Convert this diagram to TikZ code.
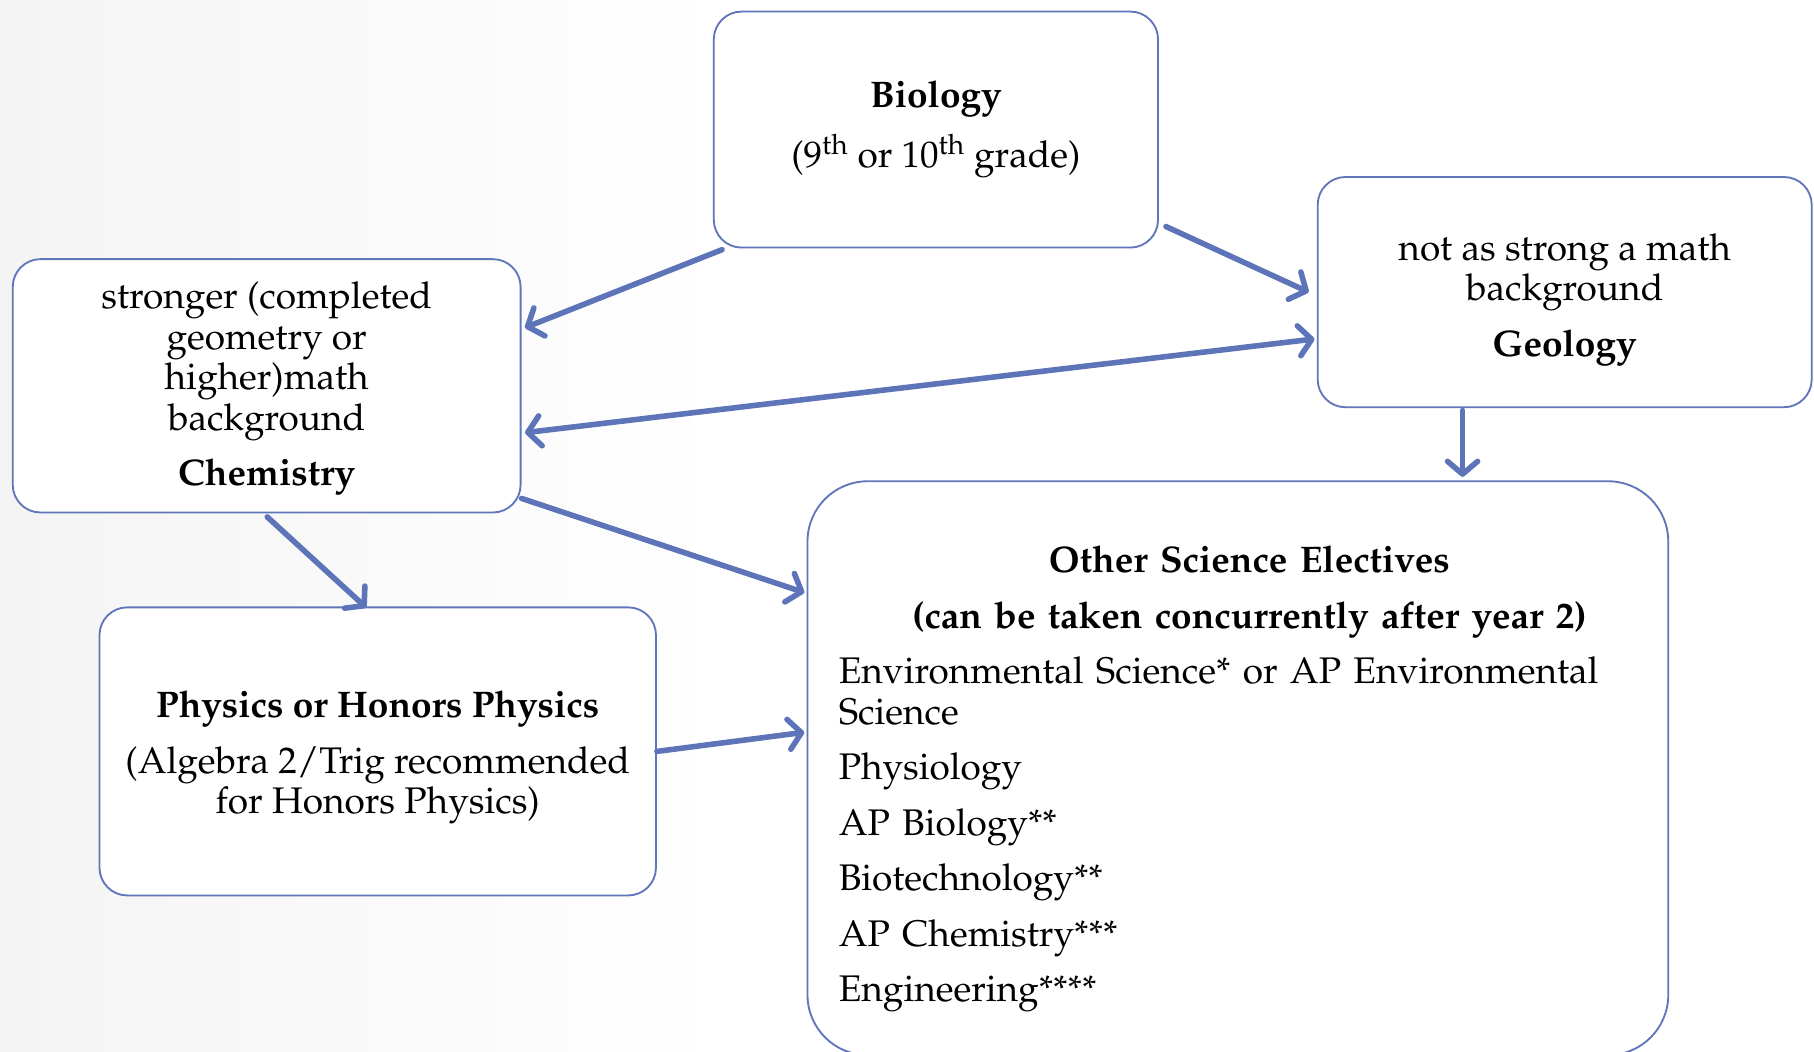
\documentclass[tikz,border=0pt]{standalone}
\usepackage[T1]{fontenc}
\usepackage{mathpazo}
\usetikzlibrary{arrows.meta}
\definecolor{arrowblue}{RGB}{93,116,185}
\definecolor{boxblue}{RGB}{96,118,186}
\pgfdeclarehorizontalshading{bgshade}{100bp}{color(0bp)=(black!12); color(22bp)=(black!5); color(45bp)=(white); color(80bp)=(white); color(100bp)=(black!8)}
\newcommand{\topstrut}[1]{\rule{0pt}{#1}}
\tikzset{
  box/.style={draw=boxblue, line width=1.6pt, fill=white, rounded corners=24pt,
    align=center, inner sep=0pt, font=\fontsize{32}{35}\selectfont},
  flow/.style={draw=arrowblue, line width=4.8pt, line cap=round,
    -{Straight Barb[length=11pt,width=26pt,round]}},
  flowboth/.style={draw=arrowblue, line width=4.8pt, line cap=round,
    {Straight Barb[length=11pt,width=26pt,round]}-{Straight Barb[length=11pt,width=26pt,round]}}
}
\begin{document}
\begin{tikzpicture}[x=1pt,y=-1pt]
\useasboundingbox (0,0) rectangle (1568,909);
\shade[shading=bgshade] (0,0) rectangle (1568,909);

\node[box, minimum width=384pt, minimum height=204pt] (bio) at (809,112)
  {\topstrut{22pt}\textbf{Biology}\\[13pt](9\textsuperscript{th} or 10\textsuperscript{th} grade)};
\node[box, minimum width=427pt, minimum height=199pt] (geo) at (1352.5,252.5)
  {\topstrut{36pt}not as strong a math\\background\\[13pt]\textbf{Geology}};
\node[box, minimum width=439pt, minimum height=219pt] (chem) at (230.5,333.5)
  {\topstrut{28pt}stronger (completed\\geometry or\\higher)math\\background\\[13pt]\textbf{Chemistry}};
\node[box, minimum width=481pt, minimum height=249pt] (phys) at (326.5,649.5)
  {\topstrut{34pt}\textbf{Physics or Honors Physics}\\[13pt](Algebra 2/Trig recommended\\for Honors Physics)};
\node[box, rounded corners=52pt, minimum width=744pt, minimum height=496pt, text width=690pt, align=left] (other) at (1070,664)
  {\topstrut{42pt}\makebox[\linewidth][c]{\hspace*{20pt}\textbf{Other Science Electives}}\\[13pt]
   \makebox[\linewidth][c]{\hspace*{20pt}\textbf{(can be taken concurrently after year 2)}}\\[13pt]
   Environmental Science* or AP Environmental\\Science\\[13pt]
   Physiology\\[13pt]
   AP Biology**\\[13pt]
   Biotechnology**\\[13pt]
   AP Chemistry***\\[13pt]
   Engineering****};

\draw[flow] ([xshift=8pt,yshift=-1pt]bio.south west) -- ([xshift=3pt,yshift=-60pt]chem.north east);
\draw[flow] ([xshift=6pt,yshift=19pt]bio.south east) -- ([xshift=-7pt]geo.west);
\draw[flowboth] ([xshift=3pt,yshift=-40.5pt]chem.east) -- ([xshift=-2pt,yshift=-40.5pt]geo.west);
\draw[flow] ([xshift=126pt,yshift=-2pt]geo.south west) -- ([xshift=567pt,yshift=3pt]other.north west);
\draw[flow] ([yshift=13pt]chem.south east) -- ([xshift=-2pt,yshift=-97pt]other.north west);
\draw[flow] ([xshift=0.5pt,yshift=-3pt]chem.south) -- ([xshift=-10pt,yshift=-1pt]phys.north);
\draw[flow] (phys.east) -- ([xshift=-2pt,yshift=31pt]other.west);
\end{tikzpicture}
\end{document}
